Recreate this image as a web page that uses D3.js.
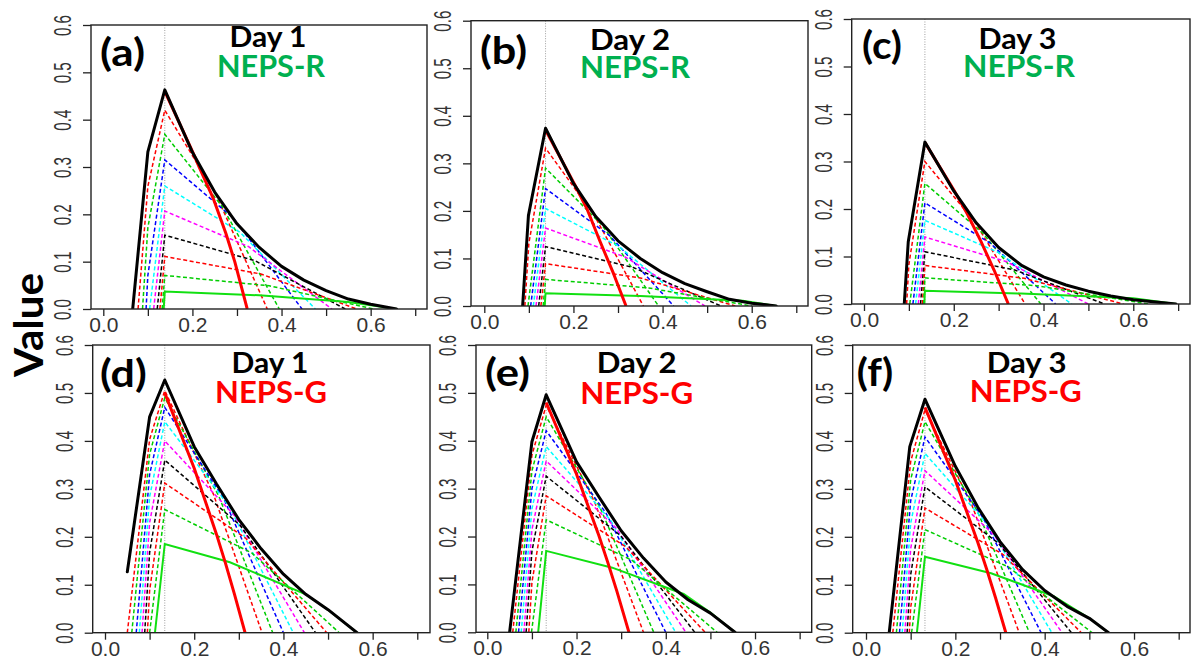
<!DOCTYPE html>
<html><head><meta charset="utf-8">
<script src="https://cdn.jsdelivr.net/npm/d3@7"></script>
<style>body{margin:0;background:#fff;} svg{display:block;}</style>
</head><body>
<svg id="chart" width="1194" height="662"></svg>
<script>
// ---------------- DATA ----------------
const panelLabels = ["(a)","(b)","(c)","(d)","(e)","(f)"];
const dayLabels = ["Day 1","Day 2","Day 3","Day 1","Day 2","Day 3"];
const systemLabels = ["NEPS-R","NEPS-R","NEPS-R","NEPS-G","NEPS-G","NEPS-G"];
const systemColors = ["#00b050","#00b050","#00b050","#ff0000","#ff0000","#ff0000"];
const xTicks = [0,0.1,0.2,0.3,0.4,0.5,0.6,0.7];
const xTickLabels = ["0.0","","0.2","","0.4","","0.6",""];
const yTicks = [0,0.1,0.2,0.3,0.4,0.5,0.6];
const yTickLabels = ["0.0","0.1","0.2","0.3","0.4","0.5","0.6"];
const baseRate = [0.138,0.1374,0.1357,0.134,0.132,0.132];

// thick black envelope (maximum value)
const envelope = [
 [[0.066,0],[0.1,0.332],[0.138,0.463],[0.2,0.331],[0.25,0.247],[0.3,0.18],[0.35,0.13],[0.4,0.09],[0.45,0.061],[0.5,0.039],[0.55,0.021],[0.6,0.01],[0.658,0]],
 [[0.086,0],[0.099,0.19],[0.1374,0.374],[0.2,0.258],[0.25,0.188],[0.3,0.137],[0.35,0.1],[0.4,0.07],[0.45,0.047],[0.5,0.03],[0.55,0.014],[0.6,0.006],[0.655,0]],
 [[0.0897,0],[0.0986,0.131],[0.1357,0.341],[0.2,0.238],[0.25,0.171],[0.3,0.119],[0.35,0.082],[0.4,0.057],[0.45,0.04],[0.5,0.027],[0.55,0.017],[0.6,0.009],[0.65,0.004],[0.695,0]],
 [[0.05,0.127],[0.1,0.45],[0.134,0.527],[0.2,0.388],[0.25,0.31],[0.3,0.236],[0.35,0.175],[0.4,0.122],[0.45,0.08],[0.5,0.048],[0.565,0]],
 [[0.05,0],[0.1,0.398],[0.132,0.496],[0.2,0.356],[0.25,0.283],[0.3,0.212],[0.35,0.155],[0.4,0.105],[0.45,0.068],[0.5,0.04],[0.555,0]],
 [[0.052,0],[0.098,0.388],[0.132,0.487],[0.2,0.347],[0.25,0.262],[0.3,0.19],[0.35,0.132],[0.4,0.088],[0.45,0.055],[0.5,0.03],[0.543,0]]
];

// thick red curve
const deterministic = [
 [[0.138,0.46],[0.2,0.333],[0.215,0.30],[0.247,0.233],[0.275,0.16],[0.295,0.10],[0.323,0]],
 [[0.1374,0.37],[0.203,0.255],[0.23,0.205],[0.26,0.135],[0.29,0.068],[0.318,0]],
 [[0.1357,0.34],[0.2026,0.236],[0.23,0.19],[0.26,0.133],[0.29,0.071],[0.3216,0]],
 [[0.134,0.50],[0.2,0.343],[0.25,0.205],[0.27,0.145],[0.29,0.081],[0.314,0]],
 [[0.132,0.48],[0.2,0.33],[0.25,0.202],[0.27,0.146],[0.29,0.087],[0.3175,0]],
 [[0.132,0.47],[0.2,0.318],[0.25,0.189],[0.27,0.133],[0.29,0.073],[0.313,0]]
];

// solid green curve
const lowestThreshold = [
 [[0.1355,0],[0.138,0.037],[0.35,0.029],[0.55,0.015],[0.658,0]],
 [[0.1355,0],[0.1374,0.027],[0.35,0.021],[0.58,0.011],[0.655,0]],
 [[0.1345,0],[0.1357,0.028],[0.35,0.022],[0.6,0.012],[0.695,0]],
 [[0.112,0],[0.134,0.185],[0.28,0.147],[0.45,0.08],[0.5,0.048],[0.565,0]],
 [[0.114,0],[0.132,0.17],[0.28,0.135],[0.44,0.08],[0.5,0.041],[0.555,0]],
 [[0.114,0],[0.132,0.1585],[0.28,0.124],[0.42,0.076],[0.5,0.03],[0.543,0]]
];

// dashed threshold curves
const thresholdColors = ["red","green3","blue","cyan","magenta","black","red","green3"];
const thresholdCurves = [
 [
  [[0.078,0],[0.1,0.259],[0.138,0.42],[0.253,0.242],[0.368,0]],
  [[0.088,0],[0.1,0.172],[0.138,0.369],[0.2665,0.217],[0.395,0]],
  [[0.096,0],[0.1,0.071],[0.138,0.315],[0.292,0.192],[0.446,0]],
  [[0.104,0],[0.138,0.26],[0.307,0.162],[0.476,0]],
  [[0.113,0],[0.138,0.207],[0.3255,0.132],[0.513,0]],
  [[0.121,0],[0.138,0.156],[0.3405,0.102],[0.543,0]],
  [[0.127,0],[0.138,0.111],[0.3535,0.074],[0.569,0]],
  [[0.132,0],[0.138,0.071],[0.3725,0.049],[0.607,0]]
 ],
 [
  [[0.091,0],[0.1,0.132],[0.1374,0.332],[0.2472,0.19],[0.357,0]],
  [[0.098,0],[0.1374,0.29],[0.2642,0.17],[0.391,0]],
  [[0.104,0],[0.1374,0.247],[0.2812,0.148],[0.425,0]],
  [[0.110,0],[0.1374,0.205],[0.3007,0.126],[0.464,0]],
  [[0.116,0],[0.1374,0.164],[0.3162,0.103],[0.495,0]],
  [[0.122,0],[0.1374,0.125],[0.3342,0.081],[0.531,0]],
  [[0.127,0],[0.1374,0.089],[0.3502,0.059],[0.563,0]],
  [[0.132,0],[0.1374,0.056],[0.3687,0.038],[0.60,0]]
 ],
 [
  [[0.095,0],[0.1,0.083],[0.1357,0.30],[0.2474,0.172],[0.359,0]],
  [[0.102,0],[0.1357,0.254],[0.2649,0.149],[0.394,0]],
  [[0.109,0],[0.1357,0.213],[0.2814,0.128],[0.427,0]],
  [[0.115,0],[0.1357,0.176],[0.2994,0.1085],[0.463,0]],
  [[0.121,0],[0.1357,0.141],[0.3179,0.089],[0.50,0]],
  [[0.126,0],[0.1357,0.11],[0.3359,0.0716],[0.536,0]],
  [[0.130,0],[0.1357,0.081],[0.3569,0.054],[0.578,0]],
  [[0.133,0],[0.1357,0.055],[0.3844,0.0386],[0.633,0]]
 ],
 [
  [[0.05,0],[0.1,0.403],[0.134,0.505],[0.243,0.289],[0.352,0]],
  [[0.06,0],[0.1,0.372],[0.134,0.49],[0.255,0.285],[0.376,0]],
  [[0.07,0],[0.1,0.33],[0.134,0.47],[0.267,0.278],[0.40,0]],
  [[0.077,0],[0.1,0.283],[0.134,0.44],[0.278,0.264],[0.422,0]],
  [[0.083,0],[0.1,0.229],[0.134,0.40],[0.2905,0.244],[0.447,0]],
  [[0.089,0],[0.1,0.167],[0.134,0.36],[0.303,0.224],[0.472,0]],
  [[0.095,0],[0.1,0.088],[0.134,0.312],[0.3155,0.197],[0.497,0]],
  [[0.10,0],[0.134,0.257],[0.3295,0.166],[0.525,0]]
 ],
 [
  [[0.057,0],[0.1,0.37],[0.132,0.474],[0.241,0.271],[0.35,0]],
  [[0.064,0],[0.1,0.337],[0.132,0.45],[0.2525,0.261],[0.373,0]],
  [[0.07,0],[0.1,0.30],[0.132,0.421],[0.266,0.249],[0.40,0]],
  [[0.076,0],[0.1,0.258],[0.132,0.388],[0.277,0.233],[0.422,0]],
  [[0.082,0],[0.1,0.214],[0.132,0.358],[0.2885,0.218],[0.445,0]],
  [[0.087,0],[0.1,0.169],[0.132,0.326],[0.2985,0.202],[0.465,0]],
  [[0.093,0],[0.1,0.104],[0.132,0.285],[0.31,0.179],[0.488,0]],
  [[0.099,0],[0.132,0.235],[0.3235,0.151],[0.515,0]]
 ],
 [
  [[0.06,0],[0.1,0.357],[0.132,0.465],[0.2375,0.265],[0.343,0]],
  [[0.068,0],[0.1,0.319],[0.132,0.44],[0.249,0.254],[0.366,0]],
  [[0.075,0],[0.1,0.275],[0.132,0.408],[0.262,0.24],[0.392,0]],
  [[0.081,0],[0.1,0.228],[0.132,0.374],[0.274,0.224],[0.416,0]],
  [[0.087,0],[0.1,0.175],[0.132,0.338],[0.2855,0.205],[0.439,0]],
  [[0.092,0],[0.1,0.121],[0.132,0.304],[0.296,0.187],[0.46,0]],
  [[0.097,0],[0.1,0.052],[0.132,0.26],[0.307,0.163],[0.482,0]],
  [[0.102,0],[0.132,0.215],[0.319,0.137],[0.506,0]]
 ]
];

// ---------------- LAYOUT ----------------
const layout = [
 {l:91,   t:25,   r:427,   b:309,   x0:103.3, k:445.6, lab:[100,65.5,45],  day:[268,47,77],    sys:[271,77,108]},
 {l:471,  t:20.7, r:808,   b:306,   x0:484.3, k:445.7, lab:[480,63.5,47],  day:[630,50,80],    sys:[635,78,110]},
 {l:851.7,t:19,   r:1190,  b:304,   x0:864,   k:448.8, lab:[862,58.5,40],  day:[1017.5,49,78], sys:[1019,77,112]},
 {l:92.7, t:345,  r:430,   b:632.7, x0:105,   k:446.1, lab:[100,386.5,46.7], day:[270,373,77],  sys:[271,403,112]},
 {l:476,  t:345,  r:811.7, b:632.3, x0:487.3, k:446.2, lab:[485,385.5,45], day:[636.7,373,80],  sys:[636.7,404,113]},
 {l:852.7,t:345,  r:1190,  b:632.7, x0:866,   k:446.7, lab:[856.7,385.5,36.6], day:[1026.7,373,80], sys:[1025.8,402,112]}
];
const colorMap = {red:"#ff0000", green3:"#00cd00", blue:"#0000ff", cyan:"#00ffff", magenta:"#ff00ff", black:"#000000"};
const svg = d3.select("#chart");
const defs = svg.append("defs");
const axisFont = "'Liberation Sans', Arial, sans-serif";
const titleFont = "Lato, 'Open Sans', sans-serif";

layout.forEach((L,i)=>{
  const x = d3.scaleLinear().domain([(L.l-L.x0)/L.k,(L.r-L.x0)/L.k]).range([L.l,L.r]);
  const y = d3.scaleLinear().domain([0,0.6]).range([L.b,L.t]);
  defs.append("clipPath").attr("id","clip"+i).append("rect")
    .attr("x",L.l).attr("y",L.t).attr("width",L.r-L.l).attr("height",L.b-L.t);
  const g = svg.append("g");
  const plot = g.append("g").attr("clip-path",`url(#clip${i})`);
  const line = d3.line().x(d=>x(d[0])).y(d=>y(d[1]));

  plot.append("line").attr("x1",x(baseRate[i])).attr("x2",x(baseRate[i]))
    .attr("y1",y(0.6)).attr("y2",y(0))
    .attr("stroke","#888").attr("stroke-width",0.8).attr("stroke-dasharray","1,1.5");

  thresholdCurves[i].forEach((pts,j)=>{
    plot.append("path").attr("d",line(pts)).attr("fill","none")
      .attr("stroke",colorMap[thresholdColors[j]]).attr("stroke-width",1.5)
      .attr("stroke-dasharray","4,2.5");
  });
  plot.append("path").attr("d",line(lowestThreshold[i])).attr("fill","none")
    .attr("stroke","#11e011").attr("stroke-width",2);
  plot.append("path").attr("d",line(deterministic[i])).attr("fill","none")
    .attr("stroke","#ff0000").attr("stroke-width",3).attr("stroke-linejoin","round");
  plot.append("path").attr("d",line(envelope[i])).attr("fill","none")
    .attr("stroke","#000").attr("stroke-width",3).attr("stroke-linejoin","round").attr("stroke-linecap","round");

  g.append("rect").attr("x",L.l).attr("y",L.t).attr("width",L.r-L.l).attr("height",L.b-L.t)
    .attr("fill","none").attr("stroke","#222").attr("stroke-width",1.4);

  const xa = g.append("g").attr("transform",`translate(0,${L.b})`)
    .call(d3.axisBottom(x).tickValues(xTicks).tickSize(7).tickFormat((d,k)=>xTickLabels[k]));
  xa.select(".domain").remove();
  xa.selectAll(".tick line").attr("stroke","#222").attr("stroke-width",1.3);
  xa.selectAll(".tick text").attr("y",23).attr("dy",null)
    .style("font-family",axisFont).style("font-size","21px").attr("fill","#333");

  const ya = g.append("g").attr("transform",`translate(${L.l},0)`)
    .call(d3.axisLeft(y).tickValues(yTicks).tickSize(8).tickFormat((d,k)=>yTickLabels[k]));
  ya.select(".domain").remove();
  ya.selectAll(".tick line").attr("stroke","#222").attr("stroke-width",1.3);
  ya.selectAll(".tick text").attr("x",null).attr("dy",null)
    .attr("text-anchor","middle").attr("dominant-baseline","central")
    .attr("transform","translate(-28,0) scale(1,0.66) rotate(-90)")
    .style("font-family",axisFont).style("font-size","23px").attr("fill","#333");

  g.append("text").attr("x",L.lab[0]).attr("y",L.lab[1]).text(panelLabels[i])
    .attr("textLength",L.lab[2]).attr("lengthAdjust","spacingAndGlyphs")
    .style("font-family",titleFont).style("font-weight","bold").style("font-size","38px").attr("fill","#000");
  g.append("text").attr("x",L.day[0]-L.day[2]/2).attr("y",L.day[1]).text(dayLabels[i])
    .attr("textLength",L.day[2]).attr("lengthAdjust","spacingAndGlyphs")
    .style("font-family",titleFont).style("font-weight","bold").style("font-size","28px").attr("fill","#000");
  g.append("text").attr("x",L.sys[0]-L.sys[2]/2).attr("y",L.sys[1]).text(systemLabels[i])
    .attr("textLength",L.sys[2]).attr("lengthAdjust","spacingAndGlyphs")
    .style("font-family",titleFont).style("font-weight","bold").style("font-size","30px").attr("fill",systemColors[i]);
});

svg.append("text").attr("transform","translate(43,325) rotate(-90)")
  .attr("text-anchor","middle").attr("textLength",104).attr("lengthAdjust","spacingAndGlyphs")
  .text("Value").style("font-family",titleFont).style("font-weight","bold").style("font-size","40px");
</script>
</body></html>
